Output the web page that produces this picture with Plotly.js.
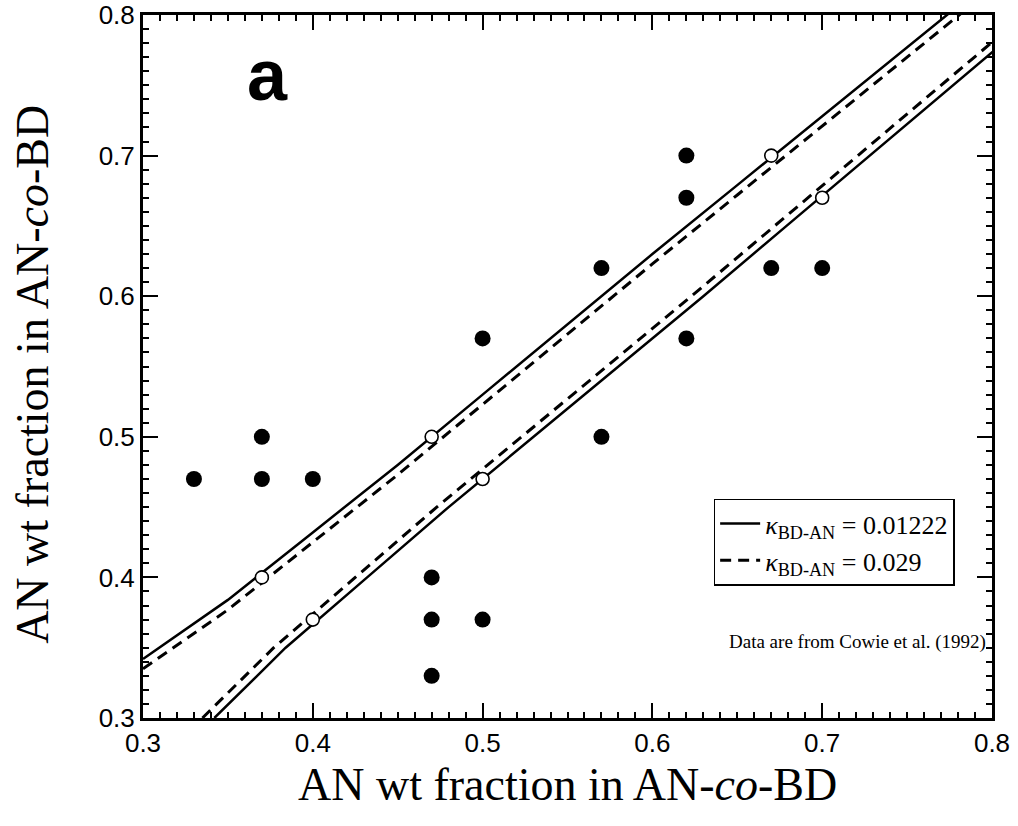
<!DOCTYPE html>
<html>
<head>
<meta charset="utf-8">
<script src="https://cdn.plot.ly/plotly-3.0.1.min.js"></script>
<style>
  html, body { margin: 0; padding: 0; background: #ffffff; }
  #chart { width: 1018px; height: 826px; }
</style>
</head>
<body>
<div id="chart"></div>
<script>
// ---- data ----
const tickValsMajor = [0.3, 0.4, 0.5, 0.6, 0.7, 0.8];
const tickLabels = ["0.3", "0.4", "0.5", "0.6", "0.7", "0.8"];

// Cowie et al. (1992) data (filled circles)
const filledX = [0.33, 0.37, 0.37, 0.40, 0.47, 0.47, 0.47, 0.50, 0.50, 0.57, 0.57, 0.62, 0.62, 0.62, 0.67, 0.70];
const filledY = [0.47, 0.50, 0.47, 0.47, 0.40, 0.37, 0.33, 0.37, 0.57, 0.62, 0.50, 0.70, 0.67, 0.57, 0.62, 0.62];

// open circles on the boundary
const openX = [0.37, 0.40, 0.47, 0.50, 0.67, 0.70];
const openY = [0.40, 0.37, 0.50, 0.47, 0.70, 0.67];

// kappa = 0.01222 (solid) boundaries
const upperSolidX = [0.30, 0.35, 0.40, 0.45, 0.50, 0.55, 0.60, 0.65, 0.70, 0.75, 0.80];
const upperSolidY = [0.342, 0.384, 0.432, 0.480, 0.530, 0.580, 0.630, 0.679, 0.728, 0.777, 0.826];
const lowerSolidX = [0.342, 0.384, 0.432, 0.480, 0.530, 0.580, 0.630, 0.679, 0.728, 0.777, 0.826];
const lowerSolidY = [0.30, 0.35, 0.40, 0.45, 0.50, 0.55, 0.60, 0.65, 0.70, 0.75, 0.80];

// kappa = 0.029 (dashed) boundaries
const upperDashX = [0.30, 0.35, 0.40, 0.45, 0.50, 0.55, 0.60, 0.65, 0.70, 0.75, 0.80];
const upperDashY = [0.335, 0.377, 0.425, 0.473, 0.523, 0.573, 0.623, 0.672, 0.721, 0.770, 0.819];
const lowerDashX = [0.335, 0.377, 0.425, 0.473, 0.523, 0.573, 0.623, 0.672, 0.721, 0.770, 0.819];
const lowerDashY = [0.30, 0.35, 0.40, 0.45, 0.50, 0.55, 0.60, 0.65, 0.70, 0.75, 0.80];

const legendSolid = "<i>κ</i><sub>BD-AN</sub> = 0.01222";
const legendDash = "<i>κ</i><sub>BD-AN</sub> = 0.029";
const panelLabel = "a";
const noteText = "Data are from Cowie et al. (1992)";
const axisTitle = "AN wt fraction in AN-<i>co</i>-BD";

// ---- styling ----
const SERIF = "Liberation Serif";
const SANS = "Liberation Sans";
const solidLine = {color: "#000", width: 2.5, dash: "solid"};
const dashLine = {color: "#000", width: 3, dash: "11px,7px"};

const traces = [
  {x: upperSolidX, y: upperSolidY, mode: "lines", line: solidLine, name: legendSolid, showlegend: true, hoverinfo: "skip"},
  {x: upperDashX, y: upperDashY, mode: "lines", line: dashLine, name: legendDash, showlegend: true, hoverinfo: "skip"},
  {x: lowerSolidX, y: lowerSolidY, mode: "lines", line: solidLine, showlegend: false, hoverinfo: "skip"},
  {x: lowerDashX, y: lowerDashY, mode: "lines", line: dashLine, showlegend: false, hoverinfo: "skip"},
  {x: openX, y: openY, mode: "markers", showlegend: false,
   marker: {symbol: "circle", size: 13, color: "#fff", line: {color: "#000", width: 1.6}}},
  {x: filledX, y: filledY, mode: "markers", showlegend: false,
   marker: {symbol: "circle", size: 16, color: "#000"}}
];

function mainAxis() {
  return {
    range: [0.3, 0.8],
    tickmode: "array", tickvals: tickValsMajor, ticktext: tickLabels,
    ticks: "inside", ticklen: 15, tickwidth: 2, tickcolor: "#000",
    minor: {ticks: "inside", ticklen: 6, tickwidth: 1.5, tickcolor: "#000", dtick: 0.01, showgrid: false},
    showline: true, linecolor: "#000", linewidth: 3, mirror: "ticks",
    showgrid: false, zeroline: false,
    tickfont: {family: SANS, size: 26, color: "#000"}
  };
}

const baseLayout = {
  width: 1018, height: 826,
  margin: {l: 143, r: 26, t: 15, b: 108},
  paper_bgcolor: "#fff", plot_bgcolor: "#fff",
  showlegend: false,
  xaxis: mainAxis(),
  yaxis: mainAxis()
};

const annotations = [
  {text: "<b>" + panelLabel + "</b>", xref: "paper", yref: "paper", x: 0.147, y: 0.915,
   xanchor: "center", yanchor: "middle", showarrow: false,
   font: {family: SANS, size: 72, color: "#000"}},
  {text: noteText, xref: "paper", yref: "paper", x: 0.995, y: 0.108,
   xanchor: "right", yanchor: "middle", showarrow: false,
   font: {family: SERIF, size: 19, color: "#000"}},
  {text: axisTitle, xref: "paper", yref: "paper", x: 0.5, y: -0.095,
   xanchor: "center", yanchor: "middle", showarrow: false,
   font: {family: SERIF, size: 46, color: "#000"}},
  {text: axisTitle, xref: "paper", yref: "paper", x: -0.13, y: 0.489, textangle: -90,
   xanchor: "center", yanchor: "middle", showarrow: false,
   font: {family: SERIF, size: 46, color: "#000"}}
];

const legendCfg = {
  x: 0.956, xanchor: "right", y: 0.312, yanchor: "top",
  bgcolor: "#fff", bordercolor: "#000", borderwidth: 1.5,
  font: {family: SERIF, size: 26, color: "#000"},
  itemwidth: 40, tracegroupgap: 0
};

const gd = document.getElementById("chart");
const config = {displayModeBar: false};
Plotly.newPlot(gd, traces, baseLayout, config)
  .then(function() { return Plotly.relayout(gd, {annotations: annotations}); })
  .then(function() { return Plotly.relayout(gd, {showlegend: true, legend: legendCfg}); })
  .then(function() {
    if (document.querySelectorAll("path.xtick").length === 0) {
      return Plotly.relayout(gd, {"xaxis.ticks": "inside", "yaxis.ticks": "inside"});
    }
  });
</script>
</body>
</html>
